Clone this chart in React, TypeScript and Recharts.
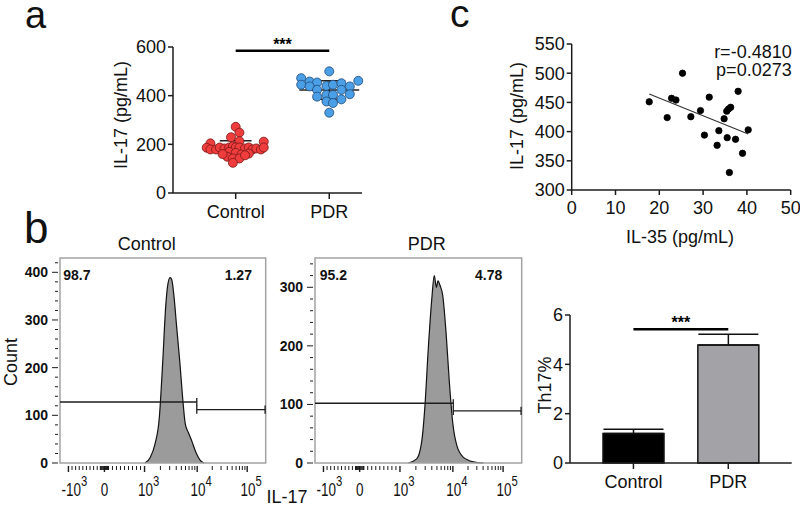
import React from 'react';
import {
  ScatterChart, Scatter, AreaChart, Area, BarChart, Bar, ErrorBar, Cell,
  XAxis, YAxis, ReferenceLine, ReferenceArea,
} from 'recharts';

const FONT = '"Liberation Sans", Arial, Helvetica, sans-serif';
const INK = '#1c1c1c';

// panel a: serum IL-17 per subject
const groups = ['Control', 'PDR'];
const controlIL17 = [272, 248, 229, 213, 204, 211, 186, 179, 179, 187, 183, 187, 192, 187, 187, 183, 187, 179, 183, 179, 187, 169, 165, 158, 162, 149, 142, 142, 124, 155, 160];
const controlJitter = [0, 0.04, -0.05, 0.04, -0.27, 0.3, -0.31, -0.27, -0.21, -0.17, -0.12, -0.07, -0.03, 0, 0.04, 0.1, 0.14, 0.18, 0.22, 0.27, 0.3, -0.07, 0, 0.06, 0.14, -0.09, -0.03, 0.04, -0.03, 0.1, -0.14];
const pdrIL17 = [500, 472, 458, 454, 445, 438, 440, 445, 451, 461, 438, 424, 424, 403, 403, 396, 406, 385, 376, 370, 330];
const pdrJitter = [0, -0.3, -0.21, -0.13, -0.3, -0.21, -0.03, 0.04, 0.13, 0.31, 0.22, -0.13, 0.13, -0.03, 0.04, -0.13, 0.22, 0.13, -0.03, 0.04, 0];
const groupMean = [185, 423];
const groupSD = [30, 38];
const il17SigLevel = 585;

// panel c: IL-35 vs IL-17 in PDR
const il35 = [17.7, 21.8, 22.8, 23.8, 25.3, 27.2, 29.4, 30.3, 31.4, 33.2, 33.6, 34.8, 35.4, 35.8, 36.3, 35.5, 36.0, 37.4, 38.0, 39.0, 40.3];
const il17 = [451, 424, 457, 454, 500, 425.5, 436, 394, 459, 376.5, 401.6, 422, 435, 438.7, 441.6, 389.6, 330, 386.8, 469, 362.8, 403];
const fitIL35 = [17.7, 40.3];
const fitIL17 = [464.4, 395.9];
const corrText = ['r=-0.4810', 'p=0.0273'];

// panel b: flow histograms (display channel 0-1000, count)
const controlChannel = [413, 438, 462, 483, 499, 514, 523, 535, 543, 554, 567, 583, 596, 609, 624, 640, 661, 681, 700];
const controlCount = [0, 11, 40, 96, 209, 329, 371, 389, 385, 350, 286, 209, 138, 82, 64, 47, 22, 6, 0];
const pdrChannel = [451, 492, 516, 532, 548, 565, 577, 587, 595, 605, 618, 634, 650, 666, 686, 717, 766, 814];
const pdrCount = [0, 7, 36, 98, 195, 280, 320, 300, 311, 303, 286, 223, 138, 70, 30, 10, 2, 0];
const flowPercents = [['98.7', '1.27'], ['95.2', '4.78']];
const gateSplit = [665, 669];
const gateLevels = [[128, 112], [102, 89]];

// panel b: Th17 %
const th17Mean = [1.2, 4.78];
const th17Err = [0.17, 0.44];
const th17SigLevel = 5.42;

// logicle-like display ticks
const majorValues = [-1000, 0, 1000, 10000, 100000];
const majorLabels = [['-10', '3'], ['0', ''], ['10', '3'], ['10', '4'], ['10', '5']];
const labelShift = [6, 0, 4, 4, 4];
const toChannel = (v: number) => {
  if (v < 0) return 216 + 175 * v / 1000;
  if (v <= 1000) return 216 + 195 * v / 1000;
  if (v <= 10000) return 411 + 256 * Math.log10(v / 1000);
  return 667 + 243 * Math.log10(v / 10000);
};
const majorChannels = majorValues.map(toChannel);
const minorChannels: number[] = [];
for (let k = 1; k <= 9; k++) {
  minorChannels.push(toChannel(-k * 100), toChannel(k * 100));
  if (k >= 2) minorChannels.push(toChannel(k * 1000), toChannel(k * 10000));
}
for (let k = -4; k <= 4; k++) if (k !== 0) minorChannels.push(216 + k * 5);
const flowXTicks = [...majorChannels, ...minorChannels].sort((a, b) => a - b);

const axisStyle = { stroke: INK, strokeWidth: 1.5 };
const tickText = { fill: '#111', fontSize: 18, fontFamily: FONT };

const FlowXTick = (p: any) => {
  const { x, y, payload } = p;
  const idx = majorChannels.findIndex((c) => Math.abs(c - payload.value) < 0.01);
  if (idx < 0) return <line x1={x} x2={x} y1={y + 1} y2={y + 5} stroke={INK} strokeWidth={1} />;
  const [base, exp] = majorLabels[idx];
  return (
    <g>
      <line x1={x} x2={x} y1={y + 1} y2={y + 7} stroke={INK} strokeWidth={1.4} />
      <g transform={`translate(${x + labelShift[idx]},${y + 31}) scale(0.75,1)`}>
        <text x={0} y={0} textAnchor="middle" fontSize={18} fill="#111" fontFamily={FONT}>
          <tspan>{base}</tspan>
          {exp && <tspan dy={-10} fontSize={15}>{exp}</tspan>}
        </text>
      </g>
    </g>
  );
};

const FlowYTick = (p: any) => {
  const { x, y, payload } = p;
  const major = payload.value % 100 === 0;
  return (
    <g>
      <line x1={x} x2={x - (major ? 6 : 3)} y1={y} y2={y} stroke={INK} strokeWidth={1} />
      {major && (
        <text x={x - 10} y={y} dy={5} textAnchor="end" fontSize={14} fontWeight={700} fill="#111" fontFamily={FONT}>
          {payload.value}
        </text>
      )}
    </g>
  );
};

function FlowPanel({ left, right, channels, counts, yMax, split, levels }: any) {
  const data = channels.map((c: number, i: number) => ({ ch: c, count: counts[i] }));
  const yTicks: number[] = [];
  for (let t = 0; t <= yMax; t += 20) yTicks.push(t);
  const cap = yMax * 0.02;
  return (
    <div style={{ position: 'absolute', left, top: 230 }}>
      <AreaChart width={280} height={273} data={data} margin={{ top: 28, right, bottom: 0, left: 0 }}>
        <XAxis type="number" dataKey="ch" domain={[0, 1000]} ticks={flowXTicks} interval={0} tick={FlowXTick}
          tickLine={false} axisLine={false} tickSize={0} height={40} />
        <YAxis type="number" domain={[0, yMax]} ticks={yTicks} interval={0} tick={FlowYTick}
          tickLine={false} axisLine={false} tickSize={0} width={60} />
        <Area type="monotone" dataKey="count" stroke="#111" strokeWidth={1.2} fill="#9b9b9b" fillOpacity={1}
          dot={false} activeDot={false} isAnimationActive={false} />
        <ReferenceArea x1={0} x2={1000} y1={0} y2={yMax} fill="none" stroke="#a3a3a3" strokeWidth={1.5} />
        <ReferenceLine segment={[{ x: 0, y: levels[0] }, { x: split, y: levels[0] }]} stroke={INK} strokeWidth={1.3} />
        <ReferenceLine segment={[{ x: split, y: levels[0] - cap }, { x: split, y: levels[0] + cap }]} stroke={INK} strokeWidth={1.3} />
        <ReferenceLine segment={[{ x: split, y: levels[1] }, { x: 997, y: levels[1] }]} stroke={INK} strokeWidth={1.3} />
        <ReferenceLine segment={[{ x: split, y: levels[1] - cap }, { x: split, y: levels[1] + cap }]} stroke={INK} strokeWidth={1.3} />
        <ReferenceLine segment={[{ x: 997, y: levels[1] - cap }, { x: 997, y: levels[1] + cap }]} stroke={INK} strokeWidth={1.3} />
      </AreaChart>
    </div>
  );
}

const dot = (fill: string, stroke: string, r: number) => (p: any) =>
  <circle cx={p.cx} cy={p.cy} r={r} fill={fill} stroke={stroke} strokeWidth={0.8} />;

export default function App() {
  const controlPts = controlIL17.map((v, i) => ({ x: 1 + controlJitter[i], y: v }));
  const pdrPts = pdrIL17.map((v, i) => ({ x: 2 + pdrJitter[i], y: v }));
  const corrPts = il35.map((v, i) => ({ x: v, y: il17[i] }));
  const th17Data = groups.map((g, i) => ({ name: g, value: th17Mean[i], err: [0, th17Err[i]] }));

  return (
    <div style={{ position: 'relative', width: 800, height: 513, background: '#fff', fontFamily: FONT, overflow: 'hidden' }}>
      <style>{'body{margin:0}'}</style>

      {/* a */}
      <div style={{ position: 'absolute', left: 100, top: 20 }}>
        <ScatterChart width={280} height={210} margin={{ top: 27, right: 18, bottom: 0, left: 0 }}>
          <XAxis type="number" dataKey="x" domain={[0.33, 2.35]} ticks={[1, 2]} tickFormatter={(v) => groups[v - 1]}
            axisLine={axisStyle} tickLine={axisStyle} tickSize={6} tickMargin={6} tick={tickText} height={37} />
          <YAxis type="number" dataKey="y" domain={[0, 600]} ticks={[0, 200, 400, 600]}
            axisLine={axisStyle} tickLine={axisStyle} tickSize={5} tickMargin={2} tick={tickText} width={73} />
          <Scatter data={controlPts} shape={dot('#ef3d3d', '#7a1616', 4.5)} isAnimationActive={false} />
          <Scatter data={pdrPts} shape={dot('#4b9fe6', '#1e4a78', 4.5)} isAnimationActive={false} />
          {groupMean.map((m, g) => {
            const x0 = g + 1;
            const sd = groupSD[g];
            return (
              <React.Fragment key={g}>
                <ReferenceLine segment={[{ x: x0 - 0.32, y: m }, { x: x0 + 0.32, y: m }]} stroke="#222" strokeWidth={1.5} />
                <ReferenceLine segment={[{ x: x0, y: m - sd }, { x: x0, y: m + sd }]} stroke="#222" strokeWidth={1.5} />
                <ReferenceLine segment={[{ x: x0 - 0.17, y: m + sd }, { x: x0 + 0.17, y: m + sd }]} stroke="#222" strokeWidth={1.5} />
                <ReferenceLine segment={[{ x: x0 - 0.17, y: m - sd }, { x: x0 + 0.17, y: m - sd }]} stroke="#222" strokeWidth={1.5} />
              </React.Fragment>
            );
          })}
          <ReferenceLine segment={[{ x: 1, y: il17SigLevel }, { x: 2, y: il17SigLevel }]} stroke="#000" strokeWidth={2.5}
            label={{ value: '***', position: 'top', offset: 1, fontSize: 16, fontWeight: 700, fill: '#000', fontFamily: FONT }} />
        </ScatterChart>
      </div>

      {/* c */}
      <div style={{ position: 'absolute', left: 490, top: 20 }}>
        <ScatterChart width={310} height={230} margin={{ top: 24, right: 9.3, bottom: 0, left: 0 }}>
          <XAxis type="number" dataKey="x" domain={[0, 50]} ticks={[0, 10, 20, 30, 40, 50]}
            axisLine={axisStyle} tickLine={axisStyle} tickSize={5} tickMargin={6} tick={tickText} height={60} />
          <YAxis type="number" dataKey="y" domain={[300, 550]} ticks={[300, 350, 400, 450, 500, 550]}
            axisLine={axisStyle} tickLine={axisStyle} tickSize={5} tickMargin={2} tick={tickText} width={81.7} />
          <Scatter data={corrPts} shape={dot('#000', '#000', 3.2)} isAnimationActive={false} />
          <ReferenceLine segment={[{ x: fitIL35[0], y: fitIL17[0] }, { x: fitIL35[1], y: fitIL17[1] }]} stroke="#333" strokeWidth={1.1} />
        </ScatterChart>
      </div>

      {/* b flow */}
      <FlowPanel left={0} right={14.3} channels={controlChannel} counts={controlCount} yMax={430}
        split={gateSplit[0]} levels={gateLevels[0]} />
      <FlowPanel left={255} right={13.3} channels={pdrChannel} counts={pdrCount} yMax={350}
        split={gateSplit[1]} levels={gateLevels[1]} />

      {/* b bars */}
      <div style={{ position: 'absolute', left: 480, top: 290 }}>
        <BarChart width={320} height={213} data={th17Data} margin={{ top: 25, right: 8.3, bottom: 0, left: 0 }}>
          <XAxis dataKey="name" padding={{ left: 16, right: 16 }} axisLine={axisStyle} tickLine={axisStyle}
            tickSize={6} tickMargin={6} tick={tickText} height={40} />
          <YAxis type="number" domain={[0, 6]} ticks={[0, 2, 4, 6]} axisLine={axisStyle} tickLine={axisStyle}
            tickSize={5} tickMargin={2} tick={tickText} width={90} />
          <Bar dataKey="value" barSize={61} stroke="#111" strokeWidth={1.5} isAnimationActive={false}>
            <Cell fill="#000" />
            <Cell fill="#a3a3a7" />
            <ErrorBar dataKey="err" width={30} stroke="#111" strokeWidth={1.5} direction="y" />
          </Bar>
          <ReferenceLine segment={[{ x: 'Control', y: th17SigLevel }, { x: 'PDR', y: th17SigLevel }]} stroke="#000" strokeWidth={2.5}
            label={{ value: '***', position: 'top', offset: 1, fontSize: 16, fontWeight: 700, fill: '#000', fontFamily: FONT }} />
        </BarChart>
      </div>

      {/* free text */}
      <svg width={800} height={513} style={{ position: 'absolute', left: 0, top: 0, pointerEvents: 'none' }} fontFamily={FONT} fill="#111">
        <text x={25} y={27.5} fontSize={38}>a</text>
        <text x={24} y={243} fontSize={44}>b</text>
        <text x={450} y={27} fontSize={39}>c</text>

        <text transform="translate(126.5,115) rotate(-90)" textAnchor="middle" fontSize={18}>IL-17 (pg/mL)</text>
        <text transform="translate(523,116) rotate(-90)" textAnchor="middle" fontSize={18}>IL-17 (pg/mL)</text>
        <text x={680} y={243} textAnchor="middle" fontSize={18}>IL-35 (pg/mL)</text>
        <text x={791.7} y={58} textAnchor="end" fontSize={18}>{corrText[0]}</text>
        <text x={791.7} y={76} textAnchor="end" fontSize={18}>{corrText[1]}</text>

        <text x={146.7} y={250} textAnchor="middle" fontSize={18}>{groups[0]}</text>
        <text x={426.7} y={250} textAnchor="middle" fontSize={18}>{groups[1]}</text>
        <text x={63.3} y={279.5} fontSize={14} fontWeight={700}>{flowPercents[0][0]}</text>
        <text x={238.3} y={279.5} textAnchor="middle" fontSize={14} fontWeight={700}>{flowPercents[0][1]}</text>
        <text x={333.3} y={280} textAnchor="middle" fontSize={14} fontWeight={700}>{flowPercents[1][0]}</text>
        <text x={488.7} y={280} textAnchor="middle" fontSize={14} fontWeight={700}>{flowPercents[1][1]}</text>
        <text transform="translate(16.5,362) rotate(-90)" textAnchor="middle" fontSize={18}>Count</text>
        <text x={287} y={503} textAnchor="middle" fontSize={18}>IL-17</text>
        <text transform="translate(551,385) rotate(-90)" textAnchor="middle" fontSize={18}>Th17%</text>
      </svg>
    </div>
  );
}
